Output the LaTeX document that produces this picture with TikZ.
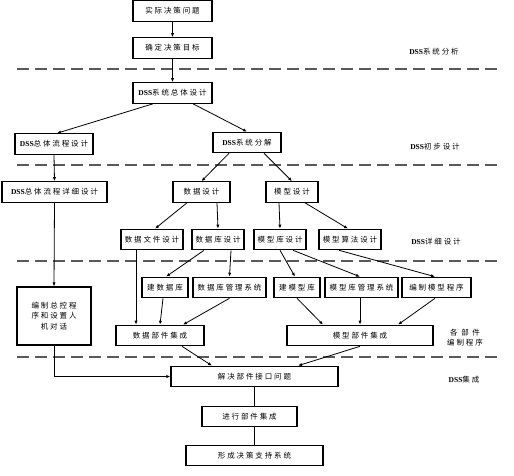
\documentclass[tikz,border=0pt]{standalone}
\usepackage{fontspec}
\usepackage{tikz}
\usetikzlibrary{arrows.meta}
\newfontfamily\cjk[LetterSpace=25]{Noto Sans CJK SC}
\newfontfamily\latn{Liberation Serif}
\newcommand\dss{{\latn\bfseries DSS}}
\definecolor{sepline}{gray}{0.35}

\begin{document}
\begin{tikzpicture}[x=1pt, y=-1pt,
    every node/.style={font=\cjk\fontsize{7.5}{10.5}\selectfont},
    box/.style={draw=black, line width=1.1pt, minimum height=20.5pt, inner sep=0pt},
    arr/.style={line width=0.8pt, -{Latex[length=4pt,width=3.2pt]}},
    link/.style={line width=0.8pt}]
    \useasboundingbox (0,0) rectangle (514,476);
    \foreach \y in {69,165,261,357}{
      \draw[sepline, line width=1.4pt, dash pattern=on 12pt off 6pt] (17,\y) -- (500,\y);
    }
    \foreach \n/\x/\y/\w/\t in {
      prob/172.5/11/79/{实际决策问题},
      goal/172.5/48/79/{确定决策目标},
      overall/172.5/93/79/{\dss 系统总体设计},
      flow/54/144/78/{\dss 总体流程设计},
      decomp/247/142.5/68/{\dss 系统分解},
      flowdet/54.5/192/105/{\dss 总体流程详细设计},
      datad/201.5/192/57/{数据设计},
      modeld/292/192/52/{模型设计},
      dfile/152/239.5/62/{数据文件设计},
      dbd/218/239.5/52/{数据库设计},
      mlib/280/239.5/52/{模型库设计},
      malg/350/239.5/62/{模型算法设计},
      builddb/165/287.5/46/{建数据库},
      dbms/229.5/287.5/73/{数据库管理系统},
      buildml/297/287.5/46/{建模型库},
      mbms/361.5/287.5/73/{模型库管理系统},
      mprog/436.5/287.5/69/{编制模型程序},
      dint/160/335.5/88/{数据部件集成},
      mint/360/335.5/146/{模型部件集成},
      iface/254.5/376.5/167/{解决部件接口问题},
      integ/249.5/416.5/95/{进行部件集成},
      final/254.5/455.5/137/{形成决策支持系统}}{
      \node[box, minimum width=\w] (\n) at (\x,\y) {\t};
    }
    \node[box, minimum width=74, minimum height=58, align=center] (ctrl) at (54,316) {编制总控程\\序和设置人\\机对话};
    \foreach \n/\x/\y/\t in {
      analysis/434/52/{\dss 系统分析},
      prelim/435/147/{\dss 初步设计},
      detail/436/242/{\dss 详细设计},
      assemble/464/380/{\dss 集成}}{
      \node (\n) at (\x,\y) {\t};
    }
    \node[align=center] (parts) at (465,337.5) {各 部 件\\编制程序};
    \foreach \a/\dx/\b/\dy in {prob/0/goal/0, goal/0/overall/0, overall/-19.5/flow/3,
      overall/20.5/decomp/0, flow/0/flowdet/0, decomp/-18/datad/0, decomp/17/modeld/0,
      flowdet/0/ctrl/0, datad/-14.5/dfile/3, datad/15.5/dbd/0, modeld/-13/mlib/0,
      modeld/13/malg/-2, dbd/-14/builddb/1, dbd/13/dbms/0, mlib/0/buildml/-2,
      mlib/13/mbms/-1.5, malg/-11/mprog/-1.5, dfile/-16/dint/-24, builddb/-2/dint/0,
      dbms/0/dint/23, buildml/0/mint/-37, mbms/-1.5/mint/0, mprog/-1.5/mint/38,
      dint/22/iface/-42.5, mint/0/iface/43.5}{
      \draw[arr] ([xshift=\dx]\a.south) -- ([xshift=\dy]\b.north);
    }
    \draw[arr] (ctrl.south) |- (iface.west);
    \draw[link] (iface.south) -- (iface.south |- integ.north);
    \draw[link] (integ.south -| final.north) -- (final.north);
  \end{tikzpicture}
\end{document}
